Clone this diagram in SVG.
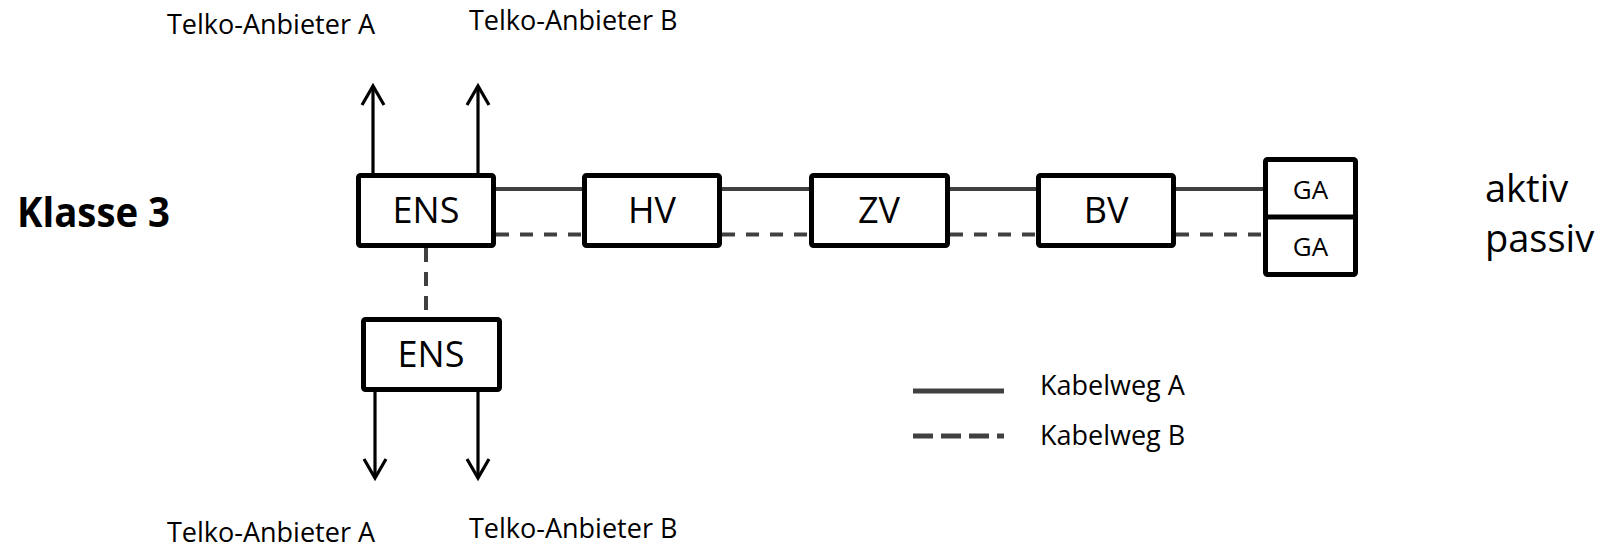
<svg xmlns="http://www.w3.org/2000/svg" width="1609" height="550" viewBox="0 0 1609 550">
<style>
.box{fill:#fff;stroke:#000;stroke-width:5;stroke-linejoin:round}
.lbl{font-family:"Open Sans","Liberation Sans",sans-serif;font-size:36px;fill:#000;text-anchor:middle}
.ga{font-family:"Open Sans","Liberation Sans",sans-serif;font-size:26px;fill:#000;text-anchor:middle}
.t{font-family:"Open Sans","Liberation Sans",sans-serif;font-size:27px;fill:#000}
.big{font-family:"Open Sans","Liberation Sans",sans-serif;font-size:38px;fill:#000}
.solid{stroke:#404040;stroke-width:4;fill:none}
.dash{stroke:#404040;stroke-width:4;fill:none;stroke-dasharray:13 11}
.arrow{stroke:#000;stroke-width:3.2;fill:none;marker-end:url(#ah)}
</style>
<defs>
<marker id="ah" markerUnits="userSpaceOnUse" markerWidth="30" markerHeight="30" viewBox="-25 -15 30 30" refX="0" refY="0" orient="auto" overflow="visible">
<path d="M-19,-11 L0,0 L-19,11" fill="none" stroke="#000" stroke-width="3.2" stroke-linejoin="miter"/>
</marker>
</defs>
<rect width="1609" height="550" fill="#fff"/>
<g id="connectors">
<line class="solid" x1="496" y1="189" x2="582" y2="189"/>
<line class="solid" x1="722" y1="189" x2="809" y2="189"/>
<line class="solid" x1="950" y1="189" x2="1036" y2="189"/>
<line class="solid" x1="1176" y1="189" x2="1263" y2="189"/>
<line class="dash" x1="496" y1="234.5" x2="582" y2="234.5"/>
<line class="dash" x1="722" y1="234.5" x2="809" y2="234.5"/>
<line class="dash" x1="950" y1="234.5" x2="1036" y2="234.5"/>
<line class="dash" x1="1176" y1="234.5" x2="1263" y2="234.5"/>
<line class="dash" x1="426" y1="248" x2="426" y2="317" style="stroke-dasharray:14 10"/>
<line class="arrow" x1="373" y1="173" x2="373" y2="86"/>
<line class="arrow" x1="478" y1="173" x2="478" y2="86"/>
<line class="arrow" x1="375" y1="392" x2="375" y2="478"/>
<line class="arrow" x1="478" y1="392" x2="478" y2="478"/>
</g>
<g id="ens1"><rect class="box" x="358.5" y="175.5" width="135" height="70" rx="2"/><text class="lbl" x="426" y="223">ENS</text></g>
<g id="hv"><rect class="box" x="584.5" y="175.5" width="135" height="70" rx="2"/><text class="lbl" x="652" y="223">HV</text></g>
<g id="zv"><rect class="box" x="811.5" y="175.5" width="136" height="70" rx="2"/><text class="lbl" x="879" y="223">ZV</text></g>
<g id="bv"><rect class="box" x="1038.5" y="175.5" width="135" height="70" rx="2"/><text class="lbl" x="1106" y="223">BV</text></g>
<g id="ga">
<rect class="box" x="1265.5" y="159.5" width="90" height="115" rx="2"/>
<line x1="1265.5" y1="217" x2="1355.5" y2="217" stroke="#000" stroke-width="5"/>
<text class="ga" x="1310.5" y="199">GA</text>
<text class="ga" x="1310.5" y="256">GA</text>
</g>
<g id="ens2"><rect class="box" x="363.5" y="319.5" width="136" height="70" rx="2"/><text class="lbl" x="431" y="367">ENS</text></g>
<g id="labels">
<text x="17" y="227" style="font-family:'Open Sans','Liberation Sans',sans-serif;font-size:41px;font-weight:bold" textLength="153" lengthAdjust="spacingAndGlyphs">Klasse 3</text>
<text class="big" x="1485" y="202">aktiv</text>
<text class="big" x="1485" y="252">passiv</text>
<text class="t" x="167" y="34">Telko-Anbieter A</text>
<text class="t" x="469" y="30">Telko-Anbieter B</text>
<text class="t" x="167" y="542">Telko-Anbieter A</text>
<text class="t" x="469" y="538">Telko-Anbieter B</text>
</g>
<g id="legend">
<line x1="913" y1="391" x2="1004" y2="391" stroke="#404040" stroke-width="5"/>
<line x1="913" y1="436" x2="1004" y2="436" stroke="#404040" stroke-width="5" stroke-dasharray="20 8"/>
<text class="t" x="1040" y="395">Kabelweg A</text>
<text class="t" x="1040" y="445">Kabelweg B</text>
</g>
</svg>
